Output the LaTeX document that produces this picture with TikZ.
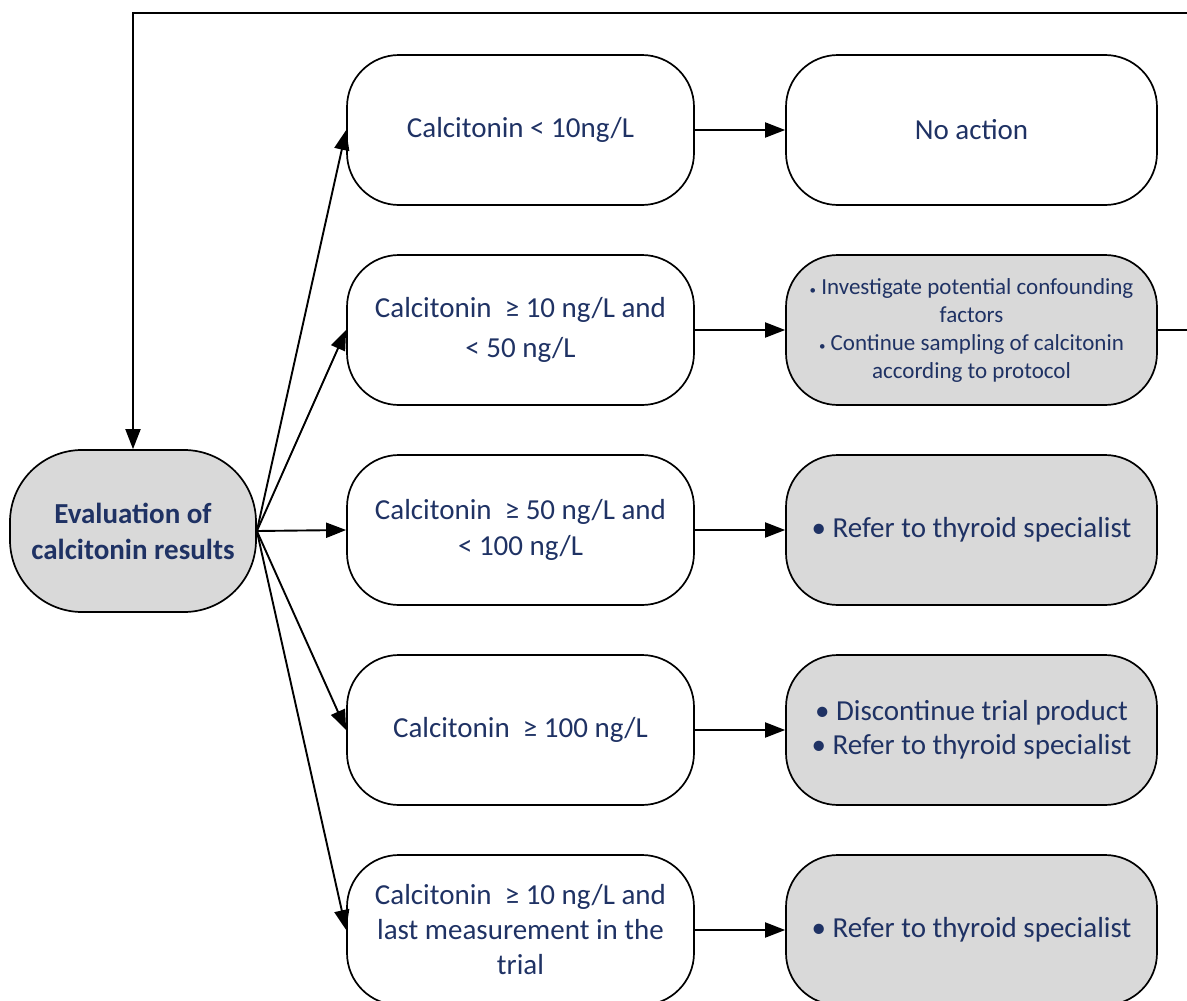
\documentclass[tikz,border=0pt]{standalone}
\usepackage{fontspec}
\setmainfont{Carlito}
\usetikzlibrary{arrows.meta}
\definecolor{txtblue}{RGB}{31,50,100}
\definecolor{boxgray}{RGB}{217,217,217}
\begin{document}
\begin{tikzpicture}[x=1pt,y=-1pt,
  box/.style={draw=black, line width=1.7pt, rounded corners=52pt, minimum width=347pt, minimum height=150pt, align=center, text=txtblue, font=\fontsize{29}{36}\selectfont, inner sep=0pt},
  rbox/.style={box, minimum width=371pt},
  gbox/.style={rbox, fill=boxgray},
  conn/.style={line width=1.9pt, -{Triangle[length=20pt,width=15pt]}}]
\useasboundingbox (0,0) rectangle (1187,1001);
\node[draw=black, line width=1.7pt, fill=boxgray, rounded corners=72pt, minimum width=246pt, minimum height=162pt, align=center, text=txtblue, font=\bfseries\fontsize{29}{36}\selectfont, inner sep=0pt] (e) at (133,531) {Evaluation of\\calcitonin results};
\node[box] (m1) at (520.5,130) {Calcitonin < 10ng/L};
\node[box, font=\fontsize{29}{40}\selectfont] (m2) at (520.5,330) {Calcitonin \ ≥ 10 ng/L and\\< 50 ng/L};
\node[box] (m3) at (520.5,530) {Calcitonin \ ≥ 50 ng/L and\\< 100 ng/L};
\node[box] (m4) at (520.5,730) {Calcitonin \ ≥ 100 ng/L};
\node[box, font=\fontsize{29}{35}\selectfont] (m5) at (520.5,930) {Calcitonin \ ≥ 10 ng/L and\\last measurement in the\\trial};
\node[rbox] (r1) at (971.5,130) {No action};
\node[gbox, font=\fontsize{23}{28}\selectfont] (r2) at (971.5,330) {{\fontsize{13}{13}\selectfont\textbullet} Investigate potential confounding\\factors\\{\fontsize{13}{13}\selectfont\textbullet} Continue sampling of calcitonin\\according to protocol};
\node[gbox] (r3) at (971.5,530) {\textbullet\ Refer to thyroid specialist};
\node[gbox, font=\fontsize{29}{34}\selectfont] (r4) at (971.5,730) {\textbullet\ Discontinue trial product\\\textbullet\ Refer to thyroid specialist};
\node[gbox] (r5) at (971.5,930) {\textbullet\ Refer to thyroid specialist};
\foreach \i in {1,...,5}{
  \draw[conn] (e.east) -- (m\i.west);
  \draw[conn] (m\i.east) -- (r\i.west);
}
\coordinate (c1) at (1200,13);
\draw[conn] (r2.east) -| (c1) -| (e.north);
\end{tikzpicture}
\end{document}
